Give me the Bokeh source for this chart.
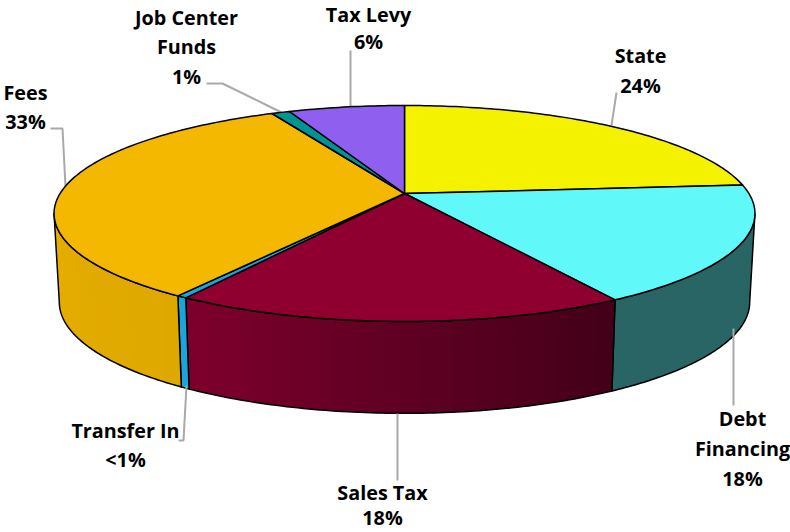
import math
from bokeh.plotting import figure
from bokeh.models import Range1d, ColumnDataSource
from bokeh.core.properties import value
from bokeh.embed import file_html
from bokeh.resources import INLINE

# ---- data (clockwise from 12 o'clock), shares
categories = ["State", "Debt Financing", "Sales Tax", "Transfer In", "Fees", "Job Center Funds", "Tax Levy"]
shares = [23.7, 17.7, 17.6, 0.4, 33.2, 1.0, 6.4]
shown_labels = ["24%", "18%", "18%", "<1%", "33%", "1%", "6%"]

# ---- styles
top_colors = ["#f5f200", "#60f8f8", "#8f0030", "#1ba5dc", "#f4b800", "#009494", "#8f5ff0"]
wall_left = ["#a0a000", "#2a6565", "#7e002c", "#1ba5dc", "#e6ae00", "#007070", "#6040a0"]
wall_right = ["#a0a000", "#2a6565", "#420018", "#1ba5dc", "#dfa800", "#007070", "#6040a0"]

# ---- layout (pixels of the 790x532 picture)
CX, CY = 404.0, 193.0
A, B, K = 344.4, 104.3, 0.185
DEPTH, XF, YF = 88.0, 0.985, 1.03
VIS_A, VIS_B = math.degrees(math.acos(-K)), 360 - math.degrees(math.acos(-K))


def top(deg):
    t = math.radians(deg)
    u, v = math.sin(t), math.cos(t)
    s = 1 / (1 + K * v)
    return CX + A * u * s, CY - B * v * s


def low(deg):
    x, y = top(deg)
    return CX + (x - CX) * XF, CY + DEPTH + (y - CY) * YF


def mix(c1, c2, f):
    a = [int(c1[i:i + 2], 16) for i in (1, 3, 5)]
    b = [int(c2[i:i + 2], 16) for i in (1, 3, 5)]
    return "#%02x%02x%02x" % tuple(round(p + (q - p) * f) for p, q in zip(a, b))


p = figure(width=790, height=532, output_backend="svg", toolbar_location=None,
           x_range=Range1d(0, 790), y_range=Range1d(532, 0), min_border=0,
           outline_line_color=None, background_fill_color="white", border_fill_color="white")
p.axis.visible = False
p.grid.visible = False

total = sum(shares)
bounds = [0.0]
for s_ in shares:
    bounds.append(bounds[-1] + s_ / total * 360)

# walls: overlapping bands so no seams show
for i in range(len(shares)):
    a0 = max(bounds[i], VIS_A)
    a1 = min(bounds[i + 1], VIS_B)
    if a1 <= a0:
        continue
    n = max(2, int((a1 - a0) / 1.5))
    angs = [a0 + (a1 - a0) * j / n for j in range(n + 1)]
    xs, ys, cols = [], [], []
    for j in range(n):
        q0, q1 = angs[j], angs[min(j + 2, n)]
        xs.append([top(q0)[0], top(q1)[0], low(q1)[0], low(q0)[0]])
        ys.append([top(q0)[1], top(q1)[1], low(q1)[1], low(q0)[1]])
        cols.append(mix(wall_right[i], wall_left[i], (j + .5) / n))
    p.patches(xs, ys, fill_color=cols, line_color=None)
    arc = [a0 + (a1 - a0) * j / 80 for j in range(81)]
    ox = [top(q)[0] for q in arc] + [low(q)[0] for q in reversed(arc)] + [top(arc[0])[0]]
    oy = [top(q)[1] for q in arc] + [low(q)[1] for q in reversed(arc)] + [top(arc[0])[1]]
    p.line(ox, oy, line_color="#000000", line_width=1.5, line_join="round")

# leader lines
lx = [[611, 616], [733, 733], [397, 397], [186, 183, 178], [65, 62, 50], [281, 222, 206], [350, 350]]
ly = [[125, 92], [328, 405], [413, 480], [385, 440, 440], [186, 128, 128], [112, 83, 83], [106, 50]]
p.multi_line(lx, ly, line_color="#a9a9a9", line_width=2)

# top faces
for i in range(len(shares)):
    a0, a1 = bounds[i], bounds[i + 1]
    n = max(3, int((a1 - a0) / 1.0))
    arc = [a0 + (a1 - a0) * j / n for j in range(n + 1)]
    xs = [CX] + [top(q)[0] for q in arc]
    ys = [CY] + [top(q)[1] for q in arc]
    p.patch(xs, ys, fill_color=top_colors[i], line_color="#000000", line_width=1.5, line_join="round")

# labels: lines, centre x, centre y
label_lines = [["State", "24%"], ["Debt", "Financing", "18%"], ["Sales Tax", "18%"], ["Transfer In", "<1%"],
               ["Fees", "33%"], ["Job Center", "Funds", "1%"], ["Tax Levy", "6%"]]
label_x = [640, 742, 382, 125, 25, 186, 368]
label_y = [[55, 85], [418, 448, 478], [492, 517], [430, 459], [92, 121], [17, 46, 76], [14, 41]]
tx, ty, tt = [], [], []
for ls, x, ys_ in zip(label_lines, label_x, label_y):
    for t, y in zip(ls, ys_):
        tx.append(x)
        ty.append(y)
        tt.append(t)
src = ColumnDataSource(dict(x=tx, y=ty, t=tt))
p.text("x", "y", text="t", source=src, text_align="center", text_baseline="middle",
       text_font=value("Open Sans"), text_font_style="bold", text_font_size="19.8px", text_color="#000000")

open("out.html", "w").write(file_html(p, INLINE))
